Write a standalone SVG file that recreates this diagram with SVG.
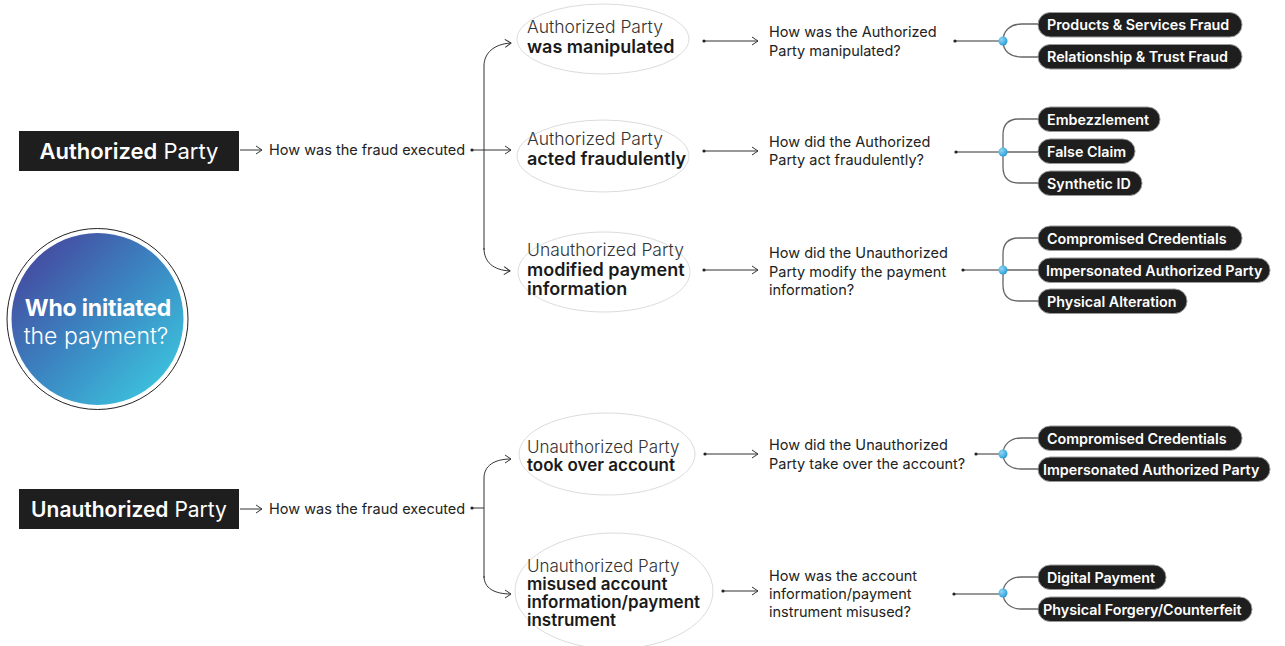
<svg xmlns="http://www.w3.org/2000/svg" width="1285" height="646" viewBox="0 0 1285 646">
<style>
text{font-family:Inter,"Noto Sans","Liberation Sans",sans-serif;fill:#222}
.box{fill:#1e1e1e}
.boxt{fill:#fff;font-size:22px}
.q{font-size:14.5px;fill:#222}
.el{fill:#fff;stroke:#dcdcdc;stroke-width:1}
.lt{font-size:17.5px;font-weight:300;fill:#333}
.bd{font-size:18px;font-weight:600;fill:#1a1a1a}
.lt2{font-size:17px;font-weight:300;fill:#333}
.bd2{font-size:17px;font-weight:600;fill:#1a1a1a}
.pill{fill:#1e1e1e;stroke:#9a9a9a;stroke-width:1}
.pt{fill:#fff;font-size:14.3px;font-weight:600}
.ln{fill:none;stroke:#333;stroke-width:1}
.br{fill:none;stroke:#666;stroke-width:1.3}
.dot{fill:#222}
.bdot{fill:url(#bg)}
.wt{fill:#fff;font-size:23px}
</style>
<defs>
<marker id="ah" viewBox="0 0 8 10" refX="7" refY="5" markerWidth="8" markerHeight="10" markerUnits="userSpaceOnUse" orient="auto">
<path d="M1,1 L7,5 L1,9" fill="none" stroke="#333" stroke-width="1"/>
</marker>
<linearGradient id="cg" x1="0.15" y1="0.15" x2="0.85" y2="0.85">
<stop offset="0" stop-color="#4450a3"/>
<stop offset="0.5" stop-color="#3b86c2"/>
<stop offset="1" stop-color="#3cbcda"/>
</linearGradient>
<radialGradient id="bg" cx="0.35" cy="0.35" r="0.7">
<stop offset="0" stop-color="#8fd8f5"/>
<stop offset="1" stop-color="#2a9ad6"/>
</radialGradient>
</defs>

<g id="connectors">
<line class="ln" x1="240" y1="150" x2="262" y2="150" marker-end="url(#ah)"/>
<line class="ln" x1="472" y1="150" x2="511" y2="150" marker-end="url(#ah)"/>
<path class="ln" d="M484 250 L484 66 C484 53 494 44 511 43" marker-end="url(#ah)"/>
<path class="ln" d="M484 248 C484 262 493 270 510 271" marker-end="url(#ah)"/>
<circle class="dot" cx="472" cy="150" r="1.6"/>
<line class="ln" x1="704" y1="41" x2="758" y2="41" marker-end="url(#ah)"/>
<circle class="dot" cx="704" cy="41" r="1.6"/>
<line class="ln" x1="704" y1="151" x2="758" y2="151" marker-end="url(#ah)"/>
<circle class="dot" cx="704" cy="151" r="1.6"/>
<line class="ln" x1="704" y1="270" x2="758" y2="270" marker-end="url(#ah)"/>
<circle class="dot" cx="704" cy="270" r="1.6"/>
<line class="ln" x1="955" y1="41" x2="1003" y2="41"/>
<circle class="dot" cx="955" cy="41" r="1.6"/>
<path class="br" d="M1038 24 L1022 24 C1010 24 1003 31 1003 41 C1003 51 1010 57 1022 57 L1038 57"/>
<circle class="bdot" cx="1003" cy="41" r="4.5"/>
<line class="ln" x1="956" y1="152" x2="1003" y2="152"/>
<circle class="dot" cx="956" cy="152" r="1.6"/>
<path class="br" d="M1038 119 L1019 119 Q1003 119 1003 135 L1003 167 Q1003 183 1019 183 L1038 183 M1003 152 L1038 152"/>
<circle class="bdot" cx="1003" cy="152" r="4.5"/>
<line class="ln" x1="963" y1="270" x2="1003" y2="270"/>
<circle class="dot" cx="963" cy="270" r="1.6"/>
<path class="br" d="M1038 238 L1019 238 Q1003 238 1003 254 L1003 285 Q1003 301 1019 301 L1038 301 M1003 270 L1038 270"/>
<circle class="bdot" cx="1003" cy="270" r="4.5"/>

<line class="ln" x1="240" y1="509" x2="262" y2="509" marker-end="url(#ah)"/>
<line class="ln" x1="472" y1="508" x2="484" y2="508"/>
<circle class="dot" cx="472" cy="508" r="1.6"/>
<path class="ln" d="M484 578 L484 478 C484 466 494 459 511 459" marker-end="url(#ah)"/>
<path class="ln" d="M484 576 C484 588 494 594 511 594" marker-end="url(#ah)"/>
<line class="ln" x1="705" y1="454" x2="758" y2="454" marker-end="url(#ah)"/>
<circle class="dot" cx="705" cy="454" r="1.6"/>
<line class="ln" x1="723" y1="591" x2="758" y2="591" marker-end="url(#ah)"/>
<circle class="dot" cx="723" cy="591" r="1.6"/>
<line class="ln" x1="976" y1="454" x2="1003" y2="454"/>
<circle class="dot" cx="976" cy="454" r="1.6"/>
<path class="br" d="M1038 438 L1021 438 C1010 438 1003 445 1003 454 C1003 463 1010 469 1021 469 L1038 469"/>
<circle class="bdot" cx="1003" cy="454" r="4.5"/>
<line class="ln" x1="954" y1="594" x2="1003" y2="594"/>
<circle class="dot" cx="954" cy="594" r="1.6"/>
<path class="br" d="M1038 577 L1021 577 C1010 577 1003 584 1003 593 C1003 602 1010 609 1021 609 L1038 609"/>
<circle class="bdot" cx="1003" cy="593" r="4.5"/>
</g>

<g id="who">
<circle cx="97.5" cy="319" r="90.5" fill="#fff" stroke="#222" stroke-width="1"/>
<circle cx="97.5" cy="319" r="86" fill="url(#cg)"/>
<text class="wt" x="98" y="316" text-anchor="middle" style="font-weight:700;letter-spacing:-0.2px">Who initiated</text>
<text class="wt" x="96" y="344" text-anchor="middle" style="font-weight:300">the payment?</text>
</g>

<g id="auth">
<rect class="box" x="19" y="131" width="220" height="40"/>
<text class="boxt" x="129" y="159" text-anchor="middle"><tspan font-weight="600">Authorized</tspan> Party</text>
</g>
<text class="q" x="269" y="155">How was the fraud executed</text>

<g id="unauth">
<rect class="box" x="19" y="489" width="220" height="40"/>
<text class="boxt" x="129" y="517" text-anchor="middle" style="font-size:21px"><tspan font-weight="600">Unauthorized</tspan> Party</text>
</g>
<text class="q" x="269" y="514">How was the fraud executed</text>

<g id="e1">
<ellipse class="el" cx="603" cy="39" rx="86" ry="35"/>
<text class="lt" x="527" y="33">Authorized Party</text>
<text class="bd" x="527" y="53">was manipulated</text>
</g>
<g id="e2">
<ellipse class="el" cx="603" cy="156" rx="86" ry="36"/>
<text class="lt" x="527" y="145">Authorized Party</text>
<text class="bd" x="527" y="165">acted fraudulently</text>
</g>
<g id="e3">
<ellipse class="el" cx="604" cy="272" rx="86" ry="40"/>
<text class="lt" x="527" y="256">Unauthorized Party</text>
<text class="bd" x="527" y="276">modified payment</text>
<text class="bd" x="527" y="295">information</text>
</g>
<g id="e4">
<ellipse class="el" cx="607" cy="454" rx="88" ry="41"/>
<text class="lt2" x="527" y="453">Unauthorized Party</text>
<text class="bd2" x="527" y="471">took over account</text>
</g>
<g id="e5">
<ellipse class="el" cx="614" cy="591" rx="99" ry="58"/>
<text class="lt2" x="527" y="572">Unauthorized Party</text>
<text class="bd2" x="527" y="590">misused account</text>
<text class="bd2" x="527" y="608">information/payment</text>
<text class="bd2" x="527" y="626">instrument</text>
</g>

<g id="q1"><text class="q" x="769" y="37">How was the Authorized</text><text class="q" x="769" y="56">Party manipulated?</text></g>
<g id="q2"><text class="q" x="769" y="147">How did the Authorized</text><text class="q" x="769" y="165">Party act fraudulently?</text></g>
<g id="q3"><text class="q" x="769" y="258">How did the Unauthorized</text><text class="q" x="769" y="277">Party modify the payment</text><text class="q" x="769" y="295">information?</text></g>
<g id="q4"><text class="q" x="769" y="450">How did the Unauthorized</text><text class="q" x="769" y="469">Party take over the account?</text></g>
<g id="q5"><text class="q" x="769" y="581">How was the account</text><text class="q" x="769" y="599">information/payment</text><text class="q" x="769" y="617">instrument misused?</text></g>

<g id="p1"><rect class="pill" x="1038" y="12.5" width="204" height="24.5" rx="12.25"/><text class="pt" x="1047" y="30">Products &amp; Services Fraud</text></g>
<g id="p2"><rect class="pill" x="1038" y="44.5" width="204" height="24.5" rx="12.25"/><text class="pt" x="1047" y="62">Relationship &amp; Trust Fraud</text></g>
<g id="p3"><rect class="pill" x="1038" y="107" width="122" height="24.5" rx="12.25"/><text class="pt" x="1047" y="124.5">Embezzlement</text></g>
<g id="p4"><rect class="pill" x="1038" y="139" width="97" height="24.5" rx="12.25"/><text class="pt" x="1047" y="156.5">False Claim</text></g>
<g id="p5"><rect class="pill" x="1038" y="171" width="104" height="24.5" rx="12.25"/><text class="pt" x="1047" y="188.5">Synthetic ID</text></g>
<g id="p6"><rect class="pill" x="1038" y="226" width="204" height="24.5" rx="12.25"/><text class="pt" x="1047" y="243.5">Compromised Credentials</text></g>
<g id="p7"><rect class="pill" x="1038" y="258" width="232" height="24.5" rx="12.25"/><text class="pt" x="1046" y="275.5">Impersonated Authorized Party</text></g>
<g id="p8"><rect class="pill" x="1038" y="289" width="149" height="24.5" rx="12.25"/><text class="pt" x="1047" y="306.5">Physical Alteration</text></g>
<g id="p9"><rect class="pill" x="1038" y="426" width="204" height="24.5" rx="12.25"/><text class="pt" x="1047" y="443.5">Compromised Credentials</text></g>
<g id="p10"><rect class="pill" x="1038" y="457" width="232" height="24.5" rx="12.25"/><text class="pt" x="1043" y="474.5">Impersonated Authorized Party</text></g>
<g id="p11"><rect class="pill" x="1038" y="565" width="128" height="24.5" rx="12.25"/><text class="pt" x="1047" y="582.5">Digital Payment</text></g>
<g id="p12"><rect class="pill" x="1038" y="597" width="214" height="24.5" rx="12.25"/><text class="pt" x="1043" y="614.5">Physical Forgery/Counterfeit</text></g>
</svg>
